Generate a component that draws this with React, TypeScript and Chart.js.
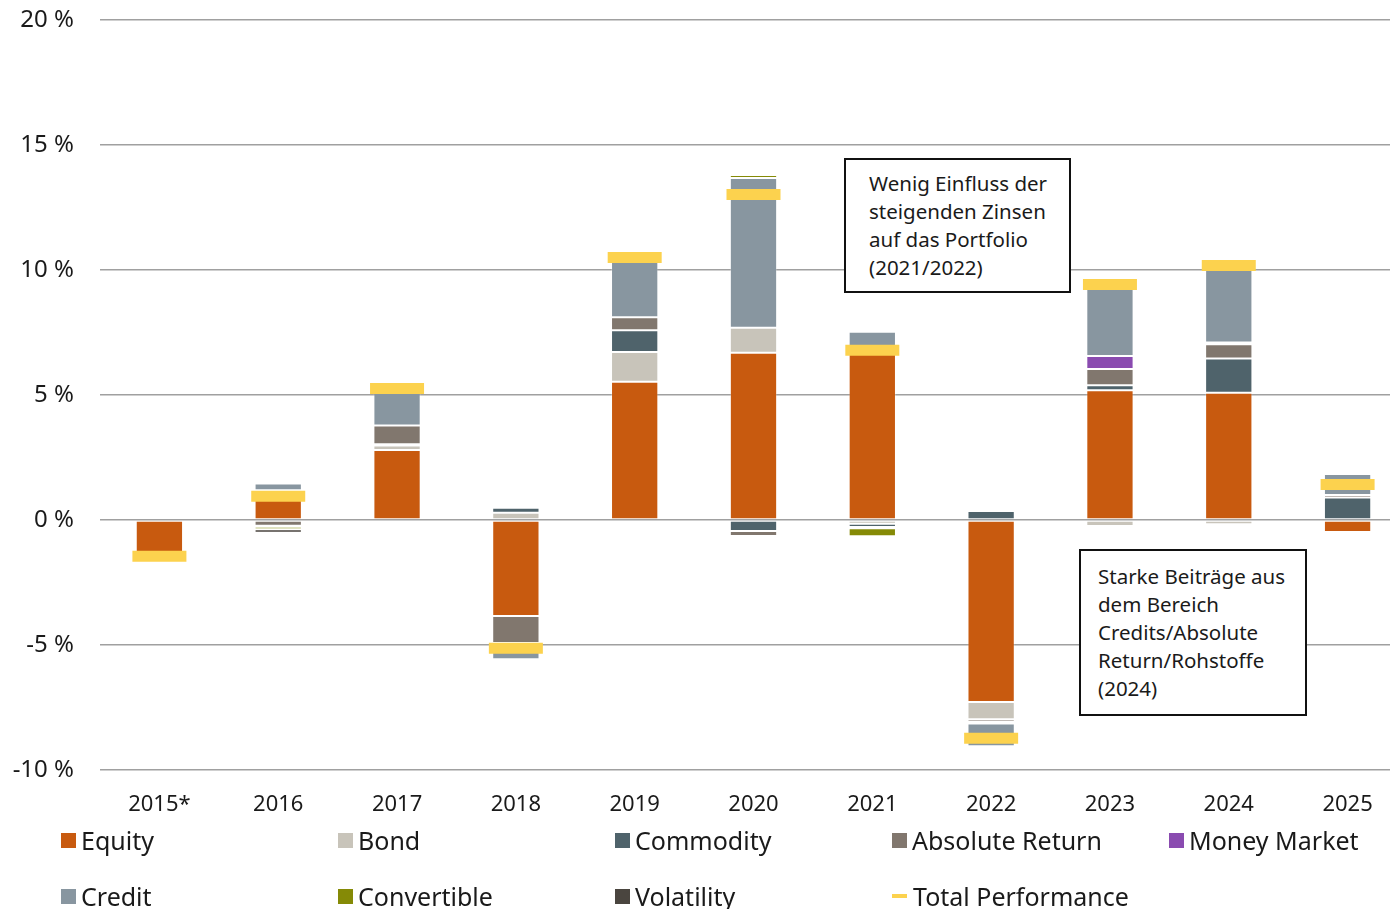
import React, { useEffect, useRef } from "react";
import { Chart, registerables } from "chart.js";

Chart.register(...registerables);

const categories = ["2015*", "2016", "2017", "2018", "2019", "2020", "2021", "2022", "2023", "2024", "2025"];

const equity = [-1.3, 1.14, 2.8, -3.84, 5.53, 6.69, 6.65, -7.28, 5.19, 5.09, -0.48];
const bond = [0, 0, 0.18, 0.29, 1.19, 1.0, -0.15, -0.69, -0.24, -0.17, 0];
const commodity = [0, 0.05, 0.05, 0.2, 0.87, -0.44, -0.13, 0.36, 0.2, 1.37, 0.9];
const absoluteReturn = [0, -0.23, 0.75, -1.08, 0.52, -0.2, 0, -0.1, 0.65, 0.57, 0.1];
const moneyMarket = [0, -0.04, -0.07, 0, -0.04, -0.07, -0.05, -0.07, 0.52, 0.07, 0];
const credit = [0, 0.27, 1.63, -0.65, 2.51, 5.99, 0.88, -0.91, 2.9, 3.25, 0.84];
const convertible = [0, -0.1, 0, -0.04, 0, 0.12, -0.32, 0, 0, 0, 0];
const volatility = [0, -0.14, -0.08, -0.04, -0.08, -0.06, -0.07, -0.04, 0, 0, 0];
const totalPerformance = [-1.45, 0.95, 5.26, -5.13, 10.5, 13.02, 6.79, -8.73, 9.42, 10.18, 1.42];

const yTicks = [-10, -5, 0, 5, 10, 15, 20];

const seriesNames = ["Equity", "Bond", "Commodity", "Absolute Return", "Money Market", "Credit", "Convertible", "Volatility"];
const seriesColors = ["#C85A0F", "#C8C4BA", "#4F636B", "#81776E", "#8A4BB0", "#8896A0", "#858A06", "#4A453F"];
const seriesValues = [equity, bond, commodity, absoluteReturn, moneyMarket, credit, convertible, volatility];
const totalName = "Total Performance";
const totalColor = "#FCD24E";

const annotation1 = ["Wenig Einfluss der", "steigenden Zinsen", "auf das Portfolio", "(2021/2022)"];
const annotation2 = ["Starke Beiträge aus", "dem Bereich", "Credits/Absolute", "Return/Rohstoffe", "(2024)"];

const FONT = "'Noto Sans', sans-serif";

export default function App() {
  const canvasRef = useRef<HTMLCanvasElement | null>(null);

  useEffect(() => {
    document.body.style.margin = "0";
    const ctx = canvasRef.current!.getContext("2d")!;
    Chart.defaults.font.family = FONT;
    const datasets: any[] = seriesNames.map((name, i) => ({
      type: "bar",
      label: name,
      data: seriesValues[i],
      backgroundColor: seriesColors[i],
      borderColor: "rgba(255,255,255,0.25)",
      borderWidth: 1,
      borderSkipped: false,
      categoryPercentage: 1,
      barPercentage: 0.398,
      order: 1,
    }));
    datasets.push({
      type: "line",
      label: totalName,
      data: totalPerformance,
      showLine: false,
      stack: "total",
      pointStyle: "line",
      pointRadius: 27,
      pointHoverRadius: 27,
      pointBorderWidth: 11,
      pointHoverBorderWidth: 11,
      borderColor: totalColor,
      backgroundColor: totalColor,
      pointBorderColor: totalColor,
      order: 0,
    });
    const chart = new Chart(ctx, {
      type: "bar",
      data: { labels: categories, datasets },
      options: {
        animation: false,
        responsive: false,
        maintainAspectRatio: false,
        layout: { padding: 0, autoPadding: false },
        plugins: { legend: { display: false }, tooltip: { enabled: false } },
        scales: {
          x: {
            stacked: true,
            grid: { display: false, drawTicks: false },
            border: { display: false },
            ticks: { color: "#1a1a1a", font: { size: 22 }, padding: 22, maxRotation: 0 },
            afterFit: (s: any) => { s.height = 139; s.paddingLeft = 0; s.paddingRight = 0; },
          },
          y: {
            stacked: true,
            min: -10,
            max: 20,
            afterBuildTicks: (s: any) => { s.ticks = yTicks.map((v) => ({ value: v })); },
            grid: { color: "#a0a0a0", lineWidth: 1.6, drawTicks: false },
            border: { display: false },
            ticks: { color: "#1a1a1a", font: { size: 24 }, padding: 26, callback: (v: any) => v + " %" },
            afterFit: (s: any) => { s.width = 100; s.paddingTop = 20; s.paddingBottom = 0; },
          },
        },
      },
    });
    return () => chart.destroy();
  }, []);

  const legendCols = [61, 338, 615, 892, 1169];
  const legendRows = [840, 896];
  const legendItems = [
    ...seriesNames.map((n, i) => ({ name: n, color: seriesColors[i], line: false })),
    { name: totalName, color: totalColor, line: true },
  ];

  const boxText: React.CSSProperties = { fontFamily: FONT, fontSize: 20.5, lineHeight: "28px", color: "#1a1a1a", whiteSpace: "nowrap" };

  return (
    <div style={{ position: "absolute", left: 0, top: 0, width: 1390, height: 909, overflow: "hidden", background: "#fff" }}>
      <canvas ref={canvasRef} width={1407} height={909} style={{ position: "absolute", left: 0, top: 0 }} />
      <div style={{ position: "absolute", left: 844, top: 158, width: 227, height: 135, boxSizing: "border-box", border: "2px solid #111", background: "#fff", padding: "9px 0 0 23px", ...boxText }}>
        {annotation1.map((l, i) => <div key={i}>{l}</div>)}
      </div>
      <div style={{ position: "absolute", left: 1079, top: 549, width: 228, height: 167, boxSizing: "border-box", border: "2px solid #111", background: "#fff", padding: "11px 0 0 17px", ...boxText }}>
        {annotation2.map((l, i) => <div key={i}>{l}</div>)}
      </div>
      {legendItems.map((it, i) => {
        const col = i % 5;
        const row = Math.floor(i / 5);
        const x = legendCols[col];
        const y = legendRows[row];
        return (
          <div key={it.name} style={{ position: "absolute", left: x, top: y - 18, height: 36, display: "flex", alignItems: "center", fontFamily: FONT, fontSize: 25, color: "#1a1a1a", whiteSpace: "nowrap" }}>
            {it.line ? (
              <span style={{ display: "inline-block", width: 15, height: 4, background: it.color, marginRight: 6 }} />
            ) : (
              <span style={{ display: "inline-block", width: 15, height: 15, background: it.color, marginRight: 5 }} />
            )}
            <span>{it.name}</span>
          </div>
        );
      })}
    </div>
  );
}
